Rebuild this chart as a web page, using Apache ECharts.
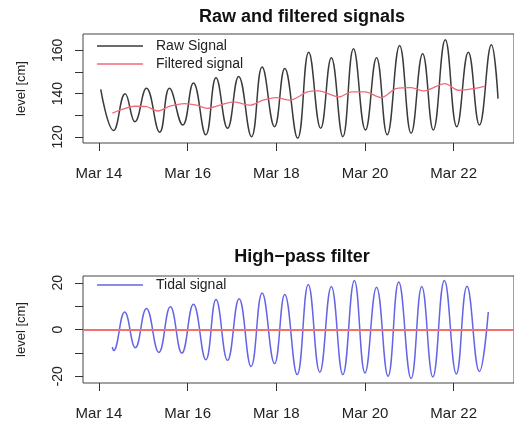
<!DOCTYPE html>
<html>
<head>
<meta charset="utf-8">
<script src="https://cdn.jsdelivr.net/npm/echarts@6/dist/echarts.min.js"></script>
<style>
  html, body { margin: 0; padding: 0; background: #fff; }
  #main { width: 514px; height: 423px; }
</style>
</head>
<body>
<div id="main"></div>
<script>
// time axis: days after Mar 14 00:00
var tickDays = [0, 2, 4, 6, 8];
var tickLabels = ['Mar 14', 'Mar 16', 'Mar 18', 'Mar 20', 'Mar 22'];

// raw signal (turning points), level in cm
var rawDays = [0.04, 0.33, 0.59, 0.81, 1.07, 1.37, 1.59, 1.89, 2.13, 2.41, 2.64, 2.90,
    3.15, 3.44, 3.68, 3.96, 4.19, 4.48, 4.73, 5.00, 5.24, 5.50, 5.74, 6.01,
    6.26, 6.50, 6.78, 7.04, 7.30, 7.54, 7.81, 8.07, 8.33, 8.58, 8.85, 9.00];
var rawLevels = [142, 123, 140, 127, 142.5, 122.2, 142.5, 125.5, 145, 121, 147.4, 124,
    148, 120.1, 152.3, 124.7, 151.6, 119.4, 159.2, 124, 156.6, 120.1, 160.8, 123.2,
    156.6, 121, 162.3, 121.7, 158.5, 123.2, 164.9, 124.7, 159.2, 125.5, 162.6, 137.7];

// low-pass (filtered) signal
var filtDays = [0.30, 0.59, 0.80, 1.07, 1.33, 1.60, 1.93, 2.20, 2.44, 2.73, 3.04, 3.41,
    3.70, 3.99, 4.30, 4.70, 4.95, 5.41, 5.70, 6.00, 6.37, 6.70, 7.04, 7.33,
    7.80, 8.11, 8.44, 8.70];
var filtLevels = [131, 133.2, 134.2, 134, 132, 134.2, 135.4, 134.7, 133.2, 134.7, 136.2, 134.7,
    137, 138.2, 137, 140.8, 141.3, 138.5, 140.8, 140.8, 138.2, 142.3, 142.8, 141.3,
    144.7, 141.6, 142.3, 143.4];

// high-pass (tidal) signal
var tideDays = [0.30, 0.33, 0.58, 0.82, 1.07, 1.35, 1.61, 1.87, 2.13, 2.41, 2.64, 2.90,
    3.16, 3.43, 3.68, 3.96, 4.19, 4.47, 4.72, 4.98, 5.24, 5.50, 5.76, 6.00,
    6.26, 6.52, 6.76, 7.04, 7.28, 7.53, 7.79, 8.06, 8.30, 8.58, 8.78];
var tideLevels = [-7.5, -9, 7.5, -7.8, 9, -9.8, 9.7, -10.1, 10.8, -12.9, 12.8, -13.2,
    13.2, -15.8, 15.6, -14.6, 15, -19.3, 19.3, -18.3, 18.4, -19.3, 21, -18.6,
    18.1, -20, 20.3, -21, 18.4, -20.3, 21, -19, 18.5, -18, 7.5];

var topTicks = [120, 130, 140, 150, 160];
var topLabels = [120, 140, 160];
var lowTicks = [-20, -10, 0, 10, 20];
var lowLabels = [-20, 0, 20];

function pairs(xs, ys) {
    return xs.map(function (x, i) { return [x, ys[i]]; });
}

var font = 'Liberation Sans, Arial, Helvetica, sans-serif';

function xAxisFor(gridIndex) {
    return {
        type: 'value',
        gridIndex: gridIndex,
        min: -0.36,
        max: 9.36,
        splitLine: {show: false},
        axisLine: {show: false, onZero: false},
        axisTick: {show: true, customValues: tickDays, length: 8, lineStyle: {color: '#333'}},
        axisLabel: {
            customValues: tickDays,
            margin: 23,
            color: '#222',
            fontFamily: font,
            fontSize: 15,
            formatter: function (v) {
                return tickLabels[tickDays.indexOf(v)];
            }
        }
    };
}

function yAxisFor(gridIndex, min, max, ticks, labels) {
    return {
        type: 'value',
        gridIndex: gridIndex,
        min: min,
        max: max,
        name: 'level [cm]',
        nameLocation: 'middle',
        nameGap: 55,
        nameTextStyle: {color: '#222', fontFamily: font, fontSize: 13},
        splitLine: {show: false},
        axisLine: {show: false, onZero: false},
        axisTick: {show: true, customValues: ticks, length: 8, lineStyle: {color: '#333'}},
        axisLabel: {
            customValues: labels,
            rotate: 90,
            margin: 18,
            color: '#222',
            fontFamily: font,
            fontSize: 14
        }
    };
}

var myChart = echarts.init(document.getElementById('main'));

var option = {
    backgroundColor: '#fff',
    animation: false,
    title: [
        {
            text: 'Raw and filtered signals',
            left: 302, top: 8, textAlign: 'center', padding: 0,
            textStyle: {fontFamily: font, fontSize: 18, fontWeight: 'bold', color: '#111'}
        },
        {
            text: 'High\u2212pass filter',
            left: 302, top: 248, textAlign: 'center', padding: 0,
            textStyle: {fontFamily: font, fontSize: 18, fontWeight: 'bold', color: '#111'}
        }
    ],
    legend: [
        {
            data: ['Raw Signal', 'Filtered signal'],
            orient: 'vertical',
            left: 97, top: 39,
            padding: 0,
            icon: 'rect',
            itemWidth: 46, itemHeight: 1.5, itemGap: 4,
            textStyle: {fontFamily: font, fontSize: 14, color: '#222', padding: [0, 0, 0, 8]}
        },
        {
            data: ['Tidal signal'],
            orient: 'vertical',
            left: 97, top: 278,
            padding: 0,
            icon: 'rect',
            itemWidth: 46, itemHeight: 1.5,
            textStyle: {fontFamily: font, fontSize: 14, color: '#222', padding: [0, 0, 0, 8]}
        }
    ],
    grid: [
        {left: 83, top: 34, width: 438, height: 109, show: true, borderColor: '#444', borderWidth: 1, backgroundColor: 'transparent'},
        {left: 83, top: 276, width: 438, height: 107, show: true, borderColor: '#444', borderWidth: 1, backgroundColor: 'transparent'}
    ],
    xAxis: [xAxisFor(0), xAxisFor(1)],
    yAxis: [
        yAxisFor(0, 117.2, 167.6, topTicks, topLabels),
        yAxisFor(1, -22.9, 22.9, lowTicks, lowLabels)
    ],
    series: [
        {
            name: 'Raw Signal',
            type: 'line',
            xAxisIndex: 0, yAxisIndex: 0,
            symbol: 'none',
            smooth: 0.45,
            lineStyle: {color: '#3a3a3a', width: 1.5},
            itemStyle: {color: '#3a3a3a'},
            data: pairs(rawDays, rawLevels)
        },
        {
            name: 'Filtered signal',
            type: 'line',
            xAxisIndex: 0, yAxisIndex: 0,
            symbol: 'none',
            smooth: 0.3,
            lineStyle: {color: '#f06a7a', width: 1.3},
            itemStyle: {color: '#f06a7a'},
            data: pairs(filtDays, filtLevels)
        },
        {
            name: 'Tidal signal',
            type: 'line',
            xAxisIndex: 1, yAxisIndex: 1,
            symbol: 'none',
            smooth: 0.45,
            lineStyle: {color: '#6464e6', width: 1.5},
            itemStyle: {color: '#6464e6'},
            data: pairs(tideDays, tideLevels),
            markLine: {
                silent: true,
                symbol: ['none', 'none'],
                label: {show: false},
                lineStyle: {color: '#f27070', width: 2, type: 'solid'},
                data: [{yAxis: 0}]
            }
        }
    ]
};

myChart.setOption(option);
</script>
</body>
</html>
